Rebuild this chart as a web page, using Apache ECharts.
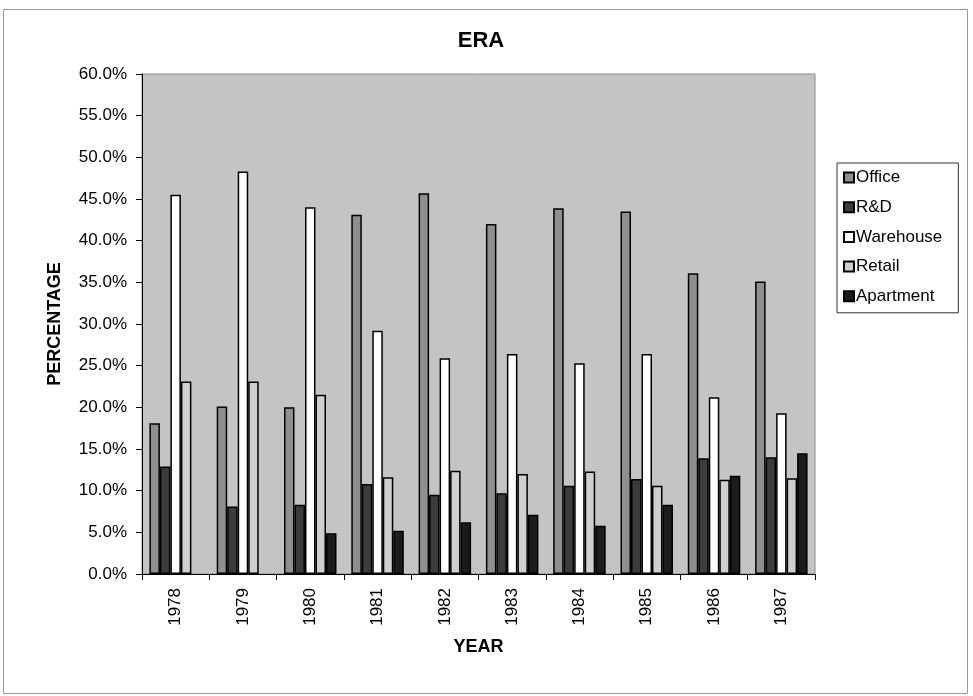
<!DOCTYPE html>
<html><head><meta charset="utf-8">
<script src="https://cdn.jsdelivr.net/npm/echarts@6/dist/echarts.min.js"></script>
<style>html,body{margin:0;padding:0;background:#fff}#c{width:973px;height:696px}</style>
</head><body><div id="c"></div>
<script>
var years = ['1978','1979','1980','1981','1982','1983','1984','1985','1986','1987'];
var office    = [18.1, 20.1, 20.0, 43.1, 45.7, 42.0, 43.9, 43.5, 36.1, 35.1];
var rnd       = [12.9,  8.1,  8.3, 10.8,  9.5,  9.7, 10.6, 11.4, 13.9, 14.0];
var warehouse = [45.5, 48.3, 44.0, 29.2, 25.9, 26.4, 25.3, 26.4, 21.2, 19.3];
var retail    = [23.1, 23.1, 21.5, 11.6, 12.4, 12.0, 12.3, 10.6, 11.3, 11.5];
var apartment = [null, null,  4.9,  5.2,  6.2,  7.1,  5.8,  8.3, 11.8, 14.5];
var seriesNames = ['Office','R&D','Warehouse','Retail','Apartment'];
var seriesData = [office, rnd, warehouse, retail, apartment];
var fills = ['#8f8f8f','#3c3c3c','#ffffff','#cfcfcf','#1c1c1c'];

var chart = echarts.init(document.getElementById('c'));
var font = 'Liberation Sans, Arial, sans-serif';
chart.setOption({
  animation: false,
  backgroundColor: '#fff',
  textStyle: {fontFamily: font, color: '#000'},
  title: {text: 'ERA', left: 476, top: 25, textAlign: 'center',
    textStyle: {fontFamily: font, fontSize: 22, fontWeight: 'bold', color: '#000'}},
  graphic: [{type: 'rect', shape: {x: 3.5, y: 9.5, width: 964, height: 684},
    style: {fill: 'none', stroke: '#999', lineWidth: 1}, silent: true}],
  legend: {orient: 'vertical', left: 837, top: 163, itemWidth: 10, itemHeight: 10,
    itemGap: 12.7, icon: 'rect', padding: [6, 16, 8, 6], borderColor: '#333', borderWidth: 1,
    textStyle: {fontFamily: font, fontSize: 17, color: '#000', padding: [0,0,0,-3]},
    data: seriesNames},
  grid: {left: 142, right: 158, top: 74, bottom: 122, show: true,
    backgroundColor: '#c4c4c4', borderColor: '#8a8a8a', borderWidth: 1},
  xAxis: {type: 'category', data: years, name: 'YEAR', nameLocation: 'middle', nameGap: 64,
    nameTextStyle: {fontFamily: font, fontSize: 18, fontWeight: 'bold', color: '#000'},
    axisLine: {lineStyle: {color: '#000'}},
    axisTick: {show: true, length: 6, lineStyle: {color: '#000'}},
    axisLabel: {rotate: 90, fontFamily: font, fontSize: 17, color: '#000', margin: 14}},
  yAxis: {type: 'value', min: 0, max: 60, interval: 5, name: 'PERCENTAGE',
    nameLocation: 'middle', nameGap: 78, nameRotate: 90,
    nameTextStyle: {fontFamily: font, fontSize: 18, fontWeight: 'bold', color: '#000'},
    axisLine: {show: true, lineStyle: {color: '#000'}},
    axisTick: {show: true, length: 6, lineStyle: {color: '#000'}},
    splitLine: {show: false},
    axisLabel: {fontFamily: font, fontSize: 17, color: '#000', margin: 15,
      formatter: function(v){return v.toFixed(1) + '%';}}},
  series: seriesNames.map(function(n, i){
    return {name: n, type: 'bar', data: seriesData[i], barGap: '0%', barCategoryGap: '22%',
      itemStyle: {color: fills[i], borderColor: '#000', borderWidth: 1.5}};
  })
});
</script></body></html>
